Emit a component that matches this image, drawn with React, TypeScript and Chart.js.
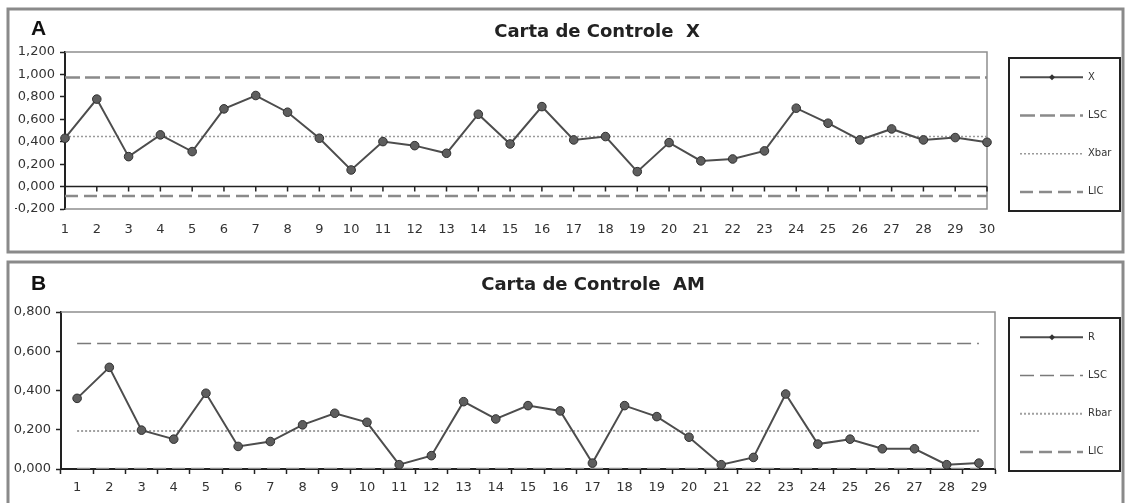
import React, { useEffect, useRef } from 'react';
import { Chart, registerables } from 'chart.js';

Chart.register(...registerables);

// ---------- Data: Carta de Controle X ----------
const samplesA = ['1', '2', '3', '4', '5', '6', '7', '8', '9', '10', '11', '12', '13', '14', '15', '16', '17', '18', '19', '20', '21', '22', '23', '24', '25', '26', '27', '28', '29', '30'];
const valuesX = [0.431, 0.78, 0.267, 0.461, 0.312, 0.693, 0.812, 0.663, 0.431, 0.148, 0.401, 0.365, 0.297, 0.645, 0.38, 0.713, 0.416, 0.446, 0.133, 0.392, 0.229, 0.246, 0.318, 0.699, 0.565, 0.416, 0.514, 0.416, 0.437, 0.395];
const lscX = 0.972;
const xbarX = 0.446;
const licX = -0.084;
const yTicksA = [-0.2, 0, 0.2, 0.4, 0.6, 0.8, 1.0, 1.2];
const legendA = ['X', 'LSC', 'Xbar', 'LIC'];

// ---------- Data: Carta de Controle AM ----------
const samplesB = ['1', '2', '3', '4', '5', '6', '7', '8', '9', '10', '11', '12', '13', '14', '15', '16', '17', '18', '19', '20', '21', '22', '23', '24', '25', '26', '27', '28', '29'];
const valuesR = [0.36, 0.518, 0.198, 0.152, 0.386, 0.115, 0.14, 0.225, 0.284, 0.238, 0.022, 0.068, 0.343, 0.255, 0.323, 0.296, 0.03, 0.323, 0.267, 0.162, 0.022, 0.059, 0.382, 0.127, 0.152, 0.103, 0.103, 0.022, 0.03];
const lscR = 0.64;
const rbarR = 0.194;
const licR = 0;
const yTicksB = [0, 0.2, 0.4, 0.6, 0.8];
const legendB = ['R', 'LSC', 'Rbar', 'LIC'];

const TICK_FONT = { family: "'DejaVu Sans', sans-serif", size: 13 };
const fmt = (v: number) => Number(v).toFixed(3).replace('.', ',');

type LineStyle = { color: string; width: number; dash: number[]; marker?: boolean };

const stylesA: LineStyle[] = [
  { color: '#4d4d4d', width: 2, dash: [], marker: true },
  { color: '#8a8a8a', width: 2.5, dash: [15, 5] },
  { color: '#9a9a9a', width: 1.5, dash: [2, 2] },
  { color: '#8a8a8a', width: 2.5, dash: [13, 6] },
];
const stylesB: LineStyle[] = [
  { color: '#4d4d4d', width: 2, dash: [], marker: true },
  { color: '#7a7a7a', width: 1.5, dash: [14, 6] },
  { color: '#a0a0a0', width: 2, dash: [2, 2] },
  { color: '#8a8a8a', width: 2.5, dash: [13, 6] },
];

type PanelCfg = {
  key: string;
  top: number;
  height: number;
  labels: string[];
  values: number[];
  lsc: number;
  center: number;
  lic: number;
  yTicks: number[];
  legend: string[];
  styles: LineStyle[];
  letter: string;
  letterY: number;
  title: string;
  titleX: number;
  titleY: number;
  pad: { left: number; right: number; top: number; bottom: number };
  xAxisHeight: number;
  xPad: number;
  offset: boolean;
  zeroAxis: boolean;
  frameTop: number;
  frameHeight: number;
};

function makePlugin(cfg: PanelCfg) {
  return {
    id: 'decor' + cfg.key,
    beforeDatasetsDraw(chart: any) {
      const { ctx, chartArea: a, scales } = chart;
      ctx.save();
      ctx.strokeStyle = '#8f8f8f';
      ctx.lineWidth = 1.5;
      ctx.beginPath();
      ctx.moveTo(a.left, a.top);
      ctx.lineTo(a.right, a.top);
      ctx.lineTo(a.right, a.bottom);
      if (cfg.zeroAxis) ctx.lineTo(a.left, a.bottom);
      ctx.stroke();
      if (cfg.zeroAxis) {
        const y0 = scales.y.getPixelForValue(0);
        ctx.strokeStyle = '#222';
        ctx.lineWidth = 1.5;
        ctx.beginPath();
        ctx.moveTo(a.left, y0);
        ctx.lineTo(a.right, y0);
        cfg.labels.forEach((_, i) => {
          const x = scales.x.getPixelForValue(i);
          ctx.moveTo(x, y0);
          ctx.lineTo(x, y0 + 5);
        });
        ctx.stroke();
      }
      ctx.restore();
    },
    afterDraw(chart: any) {
      const { ctx, chartArea: a } = chart;
      ctx.save();
      // panel frame
      ctx.strokeStyle = '#8a8a8a';
      ctx.lineWidth = 3;
      ctx.strokeRect(8, cfg.frameTop, 1115, cfg.frameHeight);
      // letter
      ctx.fillStyle = '#111';
      ctx.font = "bold 21px 'Liberation Sans', Arial, sans-serif";
      ctx.textAlign = 'left';
      ctx.textBaseline = 'middle';
      ctx.fillText(cfg.letter, 31, cfg.letterY);
      // title
      ctx.fillStyle = '#222';
      ctx.font = "bold 18px 'DejaVu Sans', sans-serif";
      ctx.textAlign = 'center';
      ctx.fillText(cfg.title, cfg.titleX, cfg.titleY);
      // legend
      const boxTop = a.top + 6;
      const boxH = a.bottom - a.top - 0;
      ctx.strokeStyle = '#222';
      ctx.lineWidth = 2;
      ctx.strokeRect(1009, boxTop, 111, boxH - 4);
      const step = (boxH - 4) / 4;
      cfg.legend.forEach((label, i) => {
        const st = cfg.styles[i];
        const y = boxTop + step * (i + 0.5);
        ctx.save();
        ctx.strokeStyle = st.color;
        ctx.lineWidth = st.width;
        ctx.setLineDash(st.dash);
        ctx.beginPath();
        ctx.moveTo(1020, y);
        ctx.lineTo(1083, y);
        ctx.stroke();
        ctx.restore();
        if (st.marker) {
          ctx.fillStyle = '#333';
          ctx.beginPath();
          ctx.moveTo(1052, y - 3);
          ctx.lineTo(1055, y);
          ctx.lineTo(1052, y + 3);
          ctx.lineTo(1049, y);
          ctx.closePath();
          ctx.fill();
        }
        ctx.fillStyle = '#333';
        ctx.font = "10px 'DejaVu Sans', sans-serif";
        ctx.textAlign = 'left';
        ctx.textBaseline = 'middle';
        ctx.fillText(label, 1088, y);
      });
      ctx.restore();
    },
  };
}

function Panel({ cfg }: { cfg: PanelCfg }) {
  const ref = useRef<HTMLCanvasElement>(null);
  useEffect(() => {
    const canvas = ref.current;
    if (!canvas) return;
    const n = cfg.labels.length;
    const series = [
      cfg.values,
      cfg.labels.map(() => cfg.lsc),
      cfg.labels.map(() => cfg.center),
      cfg.labels.map(() => cfg.lic),
    ];
    const datasets = cfg.legend.map((label, i) => {
      const st = cfg.styles[i];
      return {
        label,
        data: series[i],
        borderColor: st.color,
        borderWidth: st.width,
        borderDash: st.dash,
        pointRadius: st.marker ? 4.3 : 0,
        pointBackgroundColor: '#5e5e5e',
        pointBorderColor: '#303030',
        pointBorderWidth: 1,
        tension: 0,
        fill: false,
      };
    });
    const chart = new Chart(canvas, {
      type: 'line',
      data: { labels: cfg.labels, datasets },
      options: {
        responsive: false,
        animation: false,
        events: [],
        layout: { padding: cfg.pad },
        plugins: {
          legend: { display: false },
          tooltip: { enabled: false },
          title: { display: false },
        },
        scales: {
          x: {
            type: 'category',
            offset: cfg.offset,
            grid: cfg.offset
              ? { offset: true, drawOnChartArea: false, drawTicks: true, tickLength: 5, tickColor: '#222', tickWidth: 1.5 }
              : { display: false, drawTicks: false },
            border: cfg.offset ? { display: true, color: '#222', width: 2 } : { display: false },
            ticks: { autoSkip: false, maxRotation: 0, minRotation: 0, padding: cfg.xPad, font: TICK_FONT, color: '#333' },
            afterFit: (s: any) => {
              s.height = cfg.xAxisHeight;
            },
          },
          y: {
            type: 'linear',
            min: cfg.yTicks[0],
            max: cfg.yTicks[cfg.yTicks.length - 1],
            afterBuildTicks: (s: any) => {
              s.ticks = cfg.yTicks.map((v) => ({ value: v }));
            },
            grid: { drawOnChartArea: false, drawTicks: true, tickLength: 5, tickColor: '#222', tickWidth: 1.5 },
            border: { display: true, color: '#222', width: 2 },
            ticks: { padding: 5, font: TICK_FONT, color: '#333', callback: (v: any) => fmt(v) },
            afterFit: (s: any) => {
              s.width = 50;
            },
          },
        },
      },
      plugins: [makePlugin(cfg)],
    } as any);
    return () => chart.destroy();
  }, [cfg]);
  return (
    <canvas
      ref={ref}
      width={1127}
      height={cfg.height}
      style={{ position: 'absolute', left: 0, top: cfg.top, width: 1127, height: cfg.height }}
    />
  );
}

const panelA: PanelCfg = {
  key: 'A',
  top: 0,
  height: 256,
  labels: samplesA,
  values: valuesX,
  lsc: lscX,
  center: xbarX,
  lic: licX,
  yTicks: yTicksA,
  legend: legendA,
  styles: stylesA,
  letter: 'A',
  letterY: 29,
  title: 'Carta de Controle  X',
  titleX: 597,
  titleY: 32,
  pad: { left: 15, right: 140, top: 52, bottom: 17 },
  xAxisHeight: 30,
  xPad: 13,
  offset: false,
  zeroAxis: true,
  frameTop: 9,
  frameHeight: 243,
};

const panelB: PanelCfg = {
  key: 'B',
  top: 256,
  height: 247,
  labels: samplesB,
  values: valuesR,
  lsc: lscR,
  center: rbarR,
  lic: licR,
  yTicks: yTicksB,
  legend: legendB,
  styles: stylesB,
  letter: 'B',
  letterY: 28,
  title: 'Carta de Controle  AM',
  titleX: 593,
  titleY: 29,
  pad: { left: 11, right: 132, top: 56, bottom: 9 },
  xAxisHeight: 25,
  xPad: 6,
  offset: true,
  zeroAxis: false,
  frameTop: 6,
  frameHeight: 400,
};

export default function App() {
  return (
    <div
      style={{
        position: 'absolute',
        left: 0,
        top: 0,
        width: 1127,
        height: 503,
        background: '#fff',
        overflow: 'hidden',
      }}
    >
      <Panel cfg={panelA} />
      <Panel cfg={panelB} />
    </div>
  );
}
